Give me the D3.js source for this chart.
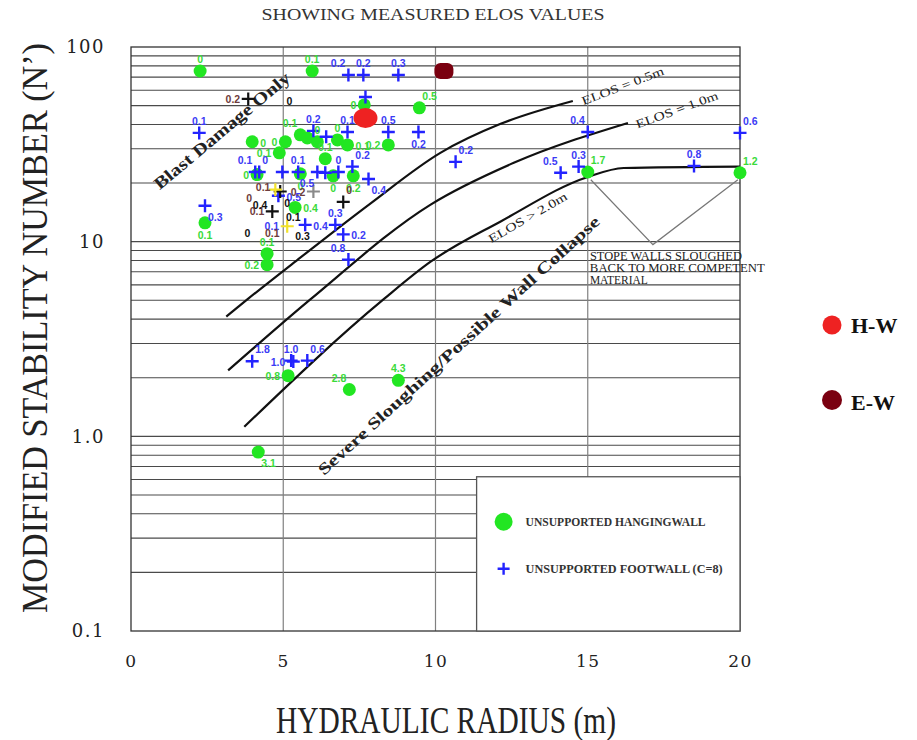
<!DOCTYPE html>
<html><head><meta charset="utf-8">
<script src="https://cdn.jsdelivr.net/npm/d3@7/dist/d3.min.js"></script>
<style>body{margin:0;background:#fff}svg{display:block}</style>
</head><body>
<svg id="chart" width="917" height="740"></svg>
<script>
// ---------------- DATA ----------------
const xTickValues = [0, 5, 10, 15, 20];
const xTickLabels = ["0", "5", "10", "15", "20"];
const yTickValues = [0.1, 1, 10, 100];
const yTickLabels = ["0.1", "1.0", "10", "100"];

// Unsupported hangingwall: [hydraulic radius, N', measured ELOS]
const hangingwall = [
  [2.27,75.3,"0"],[5.95,75.3,"0.1"],[7.66,50.4,"0"],[9.47,48.7,"0.5"],
  [3.98,32.6,"0"],[5.07,32.6,"0"],[5.56,35.4,"0.1"],[5.79,34.1,""],
  [6.12,32.6,"0"],[6.78,33.3,"0"],[7.11,31.4,"0.1"],[8.45,31.4,"0.2"],
  [4.87,28.6,"0.1"],[6.38,26.7,"0.1"],[5.56,22.3,"0"],[6.64,21.8,"0"],
  [7.30,21.8,"0.2"],[4.14,22.1,"0"],[5.39,15.0,"0.4"],[2.43,12.5,"0.1"],
  [4.47,8.68,"0.1"],[4.47,7.62,"0.2"],[5.16,2.05,"0.8"],[7.17,1.74,"2.8"],
  [8.78,1.94,"4.3"],[4.18,0.83,"3.1"],[15.0,22.8,"1.7"],[20.0,22.6,"1.2"]
];
const hwLabelSide = ["t","t","l","tr","r","l","tl","","t","t","r","l","l","t","b","b","b","l","r","b","t","l","l","tl","t","br","tr","tr"];

// Unsupported footwall (C=8): [hydraulic radius, N', measured ELOS]
const footwall = [
  [7.14,71.8,"0.2"],[7.63,71.8,"0.2"],[8.78,71.8,"0.3"],[7.70,55.4,""],
  [2.24,36.2,"0.1"],[5.99,37.1,"0.2"],[6.41,34.6,""],[7.11,36.6,"0.1"],
  [8.45,36.6,"0.5"],[9.44,36.6,"0.2"],[4.08,22.8,"0.1"],[4.21,22.8,"0"],
  [4.97,22.8,""],[5.49,22.8,"0.1"],[6.12,22.8,"0.5"],[6.38,22.6,""],
  [6.81,22.8,"0"],[7.27,24.3,"0.2"],[7.80,21.0,"0.4"],[4.84,17.2,"0.5"],
  [2.43,15.3,"0.3"],[5.72,12.2,"0.4"],[6.71,12.2,"0.3"],[6.97,10.9,"0.2"],
  [7.14,8.09,"0.8"],[3.98,2.43,"1.8"],[5.26,2.45,"1.0"],[5.33,2.42,"1.0"],
  [5.79,2.45,"0.6"],[10.66,25.7,"0.2"],[14.11,22.6,"0.5"],[14.70,24.3,"0.3"],
  [15.0,36.6,"0.4"],[18.49,24.5,"0.8"],[20.0,36.2,"0.6"]
];
const fwLabelSide = ["tl","t","t","","t","t","","t","t","b","tl","tr","","t","bl","","t","tr","br","r","br","r","t","r","tl","tr","t","l","tr","tr","tl","t","tl","t","tr"];

// Other case-history marks: [HR, N', ELOS, mark kind, label kind]
const otherMarks = [
  [3.85,54.1,"0.2","black","brown"],[6.97,16.0,"0","black","brown"],
  [4.90,18.1,"","black",""],[4.74,18.5,"","yellow",""],
  [5.99,18.1,"0.2","grey","brown"],[4.64,14.3,"0.1","black","brown"],
  [5.13,12.0,"0.1","yellow","blue"]
];
const otherLabelSide = ["l","tr","","","l","l","l"];

// Loose ELOS values: [HR, N', text, kind]
const looseLabels = [
  [5.20,52.8,"0","black"],[4.24,15.5,"0.4","black"],[3.88,16.8,"0","brown"],
  [5.13,15.8,"0","black"],[5.33,13.4,"0.1","black"],[3.82,11.1,"0","black"],
  [4.64,11.1,"0.1","brown"],[5.63,10.7,"0.3","black"],[4.34,19.2,"0.1","brown"]
];

// ELOS design curves: [HR, N']
const elos05 = [[3.13,4.12],[3.82,5.05],[5.56,8.28],[7.86,15.7],[10.16,28.6],[12.14,40.3],[14.51,52.8]];
const elos10 = [[3.19,2.18],[5.89,5.05],[9.84,15.5],[12.57,25.4],[16.32,40.7]];
const elos20 = [[3.72,1.12],[8.29,5.05],[9.84,7.89],[12.14,12.7],[15.0,21.5],[16.18,23.9],[20.0,24.3]];
const stopeV = [[15.1,20.8],[17.14,9.66],[19.93,20.8]];

// Highlighted cases
const caseHW = [[7.70,43.2]];
const caseEW = [[10.26,75.3]];

// ---------------- DRAW ----------------
const svg = d3.select("#chart");
const x = d3.scaleLinear().domain([0,20]).range([131,740]);
const y = d3.scaleLog().domain([0.1,100]).range([631,47]);
const serif = "'Liberation Serif', 'DejaVu Serif', serif";
const colors = {green:"#22e622", greenTxt:"#3ada3a", blue:"#2323ff", blueTxt:"#3b3bf5",
  black:"#111", brown:"#6e3c3c", yellow:"#f2e22a", grey:"#8a8a8a"};

// grid
const minor = [];
[0.1,1,10].forEach(d => { for (let k=1;k<10;k++) minor.push(d*k); });
svg.append("g").selectAll("line").data(minor.filter(v=>v>0.1)).join("line")
  .attr("x1", x(0)).attr("x2", x(20)).attr("y1", d=>y(d)).attr("y2", d=>y(d))
  .attr("stroke","#4a4a4a").attr("stroke-width",1.1);
svg.append("g").selectAll("line").data([5,10,15]).join("line")
  .attr("x1", d=>x(d)).attr("x2", d=>x(d)).attr("y1", y(100)).attr("y2", y(0.1))
  .attr("stroke","#808080").attr("stroke-width",1.2);
svg.append("rect").attr("x",x(0)).attr("y",y(100)).attr("width",x(20)-x(0)).attr("height",y(0.1)-y(100))
  .attr("fill","none").attr("stroke","#333").attr("stroke-width",1.3);

// curves
const line = d3.line().x(d=>x(d[0])).y(d=>y(d[1])).curve(d3.curveMonotoneX);
[elos05, elos10, elos20].forEach(c => svg.append("path").attr("d", line(c))
  .attr("fill","none").attr("stroke","#111").attr("stroke-width",2.2));
svg.append("path").attr("d", d3.line().x(d=>x(d[0])).y(d=>y(d[1]))(stopeV))
  .attr("fill","none").attr("stroke","#777").attr("stroke-width",1.2);

// annotations
function rotText(t, hx, ny, ang, size, len, weight) {
  svg.append("text").attr("transform", `translate(${x(hx)},${y(ny)}) rotate(${ang})`)
    .attr("text-anchor","middle").attr("dominant-baseline","central")
    .attr("font-family", serif).attr("font-size", size).attr("font-weight", weight)
    .attr("fill","#222").attr("textLength", len).attr("lengthAdjust","spacingAndGlyphs").text(t);
}
rotText("Blast  Damage  Only", 2.99, 37.1, -40, 17, 172, "bold");
rotText("Severe  Sloughing/Possible  Wall  Collapse", 10.76, 2.93, -42.4, 16, 375, "bold");
rotText("ELOS  =  0.5m", 16.15, 63.1, -21, 12, 87, "normal");
rotText("ELOS  =  1.0m", 17.93, 47.5, -20, 12, 87, "normal");
rotText("ELOS  >  2.0m", 13.03, 13.3, -30, 12, 89, "normal");
[["STOPE  WALLS  SLOUGHED",152],["BACK  TO  MORE  COMPETENT",175],["MATERIAL",58]].forEach((r,i)=>{
  svg.append("text").attr("x", x(15.07)).attr("y", y(8.09)+i*12)
    .attr("font-family",serif).attr("font-size",12.5).attr("fill","#222")
    .attr("textLength", r[1]).attr("lengthAdjust","spacingAndGlyphs").text(r[0]);
});

// label placement
const off = {t:[0,-8,"middle"], b:[0,16,"middle"], l:[-8,4,"end"], r:[8,5,"start"],
  tl:[-3,-8,"end"], tr:[3,-8,"start"], bl:[-3,15,"end"], br:[3,15,"start"]};
function label(g, px, py, txt, side, fill) {
  if (!txt || !side) return;
  const o = off[side];
  g.append("text").attr("x", px+o[0]).attr("y", py+o[1]).attr("text-anchor", o[2])
    .attr("font-family","'Liberation Sans', Arial, sans-serif").attr("font-weight","bold")
    .attr("font-size",10.5).attr("fill",fill).text(txt);
}
const plus = "M-6.5,0H6.5M0,-6.5V6.5";

// hangingwall
const gHW = svg.append("g");
gHW.selectAll("circle").data(hangingwall).join("circle")
  .attr("cx", d=>x(d[0])).attr("cy", d=>y(d[1])).attr("r", 6.5).attr("fill", colors.green);
// footwall
const gFW = svg.append("g");
gFW.selectAll("path").data(footwall).join("path")
  .attr("transform", d=>`translate(${x(d[0])},${y(d[1])})`).attr("d", plus)
  .attr("stroke", colors.blue).attr("stroke-width", 2.4).attr("fill","none");
// other marks
const gO = svg.append("g");
gO.selectAll("path").data(otherMarks).join("path")
  .attr("transform", d=>`translate(${x(d[0])},${y(d[1])})`).attr("d", plus)
  .attr("stroke", d=>colors[d[3]]).attr("stroke-width", 2.2).attr("fill","none");

const gL = svg.append("g");
hangingwall.forEach((d,i)=>label(gL, x(d[0]), y(d[1]), d[2], hwLabelSide[i], colors.greenTxt));
footwall.forEach((d,i)=>label(gL, x(d[0]), y(d[1]), d[2], fwLabelSide[i], colors.blueTxt));
otherMarks.forEach((d,i)=>label(gL, x(d[0]), y(d[1]), d[2], otherLabelSide[i],
  d[4]==="blue"?colors.blueTxt:colors[d[4]]));
looseLabels.forEach(d=>{
  gL.append("text").attr("x", x(d[0])).attr("y", y(d[1])+4).attr("text-anchor","middle")
    .attr("font-family","'Liberation Sans', Arial, sans-serif").attr("font-weight","bold")
    .attr("font-size",10.5).attr("fill",colors[d[3]]).text(d[2]);
});

// highlighted cases
svg.selectAll(".hw").data(caseHW).join("ellipse").attr("class","hw")
  .attr("cx", d=>x(d[0])).attr("cy", d=>y(d[1])).attr("rx",12).attr("ry",10).attr("fill","#ee2222");
svg.selectAll(".ew").data(caseEW).join("rect").attr("class","ew")
  .attr("x", d=>x(d[0])-9).attr("y", d=>y(d[1])-8).attr("width",19).attr("height",16).attr("rx",6)
  .attr("fill","#7a0010");

// legend box
const lx = x(11.35), ly = y(0.62);
svg.append("rect").attr("x", lx).attr("y", ly).attr("width", x(20)-lx).attr("height", y(0.1)-ly)
  .attr("fill","#fff").attr("stroke","#555").attr("stroke-width",1.3);
svg.append("circle").attr("cx", lx+27).attr("cy", ly+45).attr("r", 9).attr("fill", colors.green);
svg.append("path").attr("transform",`translate(${lx+27},${ly+92})`).attr("d","M-6,0H6M0,-6V6")
  .attr("stroke", colors.blue).attr("stroke-width",2.4);
[["UNSUPPORTED  HANGINGWALL",45,180],["UNSUPPORTED  FOOTWALL  (C=8)",92,197]].forEach(r=>{
  svg.append("text").attr("x", lx+49).attr("y", ly+r[1]+4).attr("font-family",serif)
    .attr("font-size",11.5).attr("font-weight","bold").attr("fill","#333")
    .attr("textLength", r[2]).attr("lengthAdjust","spacingAndGlyphs").text(r[0]);
});

// axes
const yAxis = d3.axisLeft(y).tickValues(yTickValues).tickFormat((d,i)=>yTickLabels[i]).tickSize(0).tickPadding(26);
const gy = svg.append("g").attr("transform",`translate(${x(0)},0)`).call(yAxis);
gy.select(".domain").remove();
gy.selectAll("text").attr("font-family","'DejaVu Serif', serif").attr("font-size",18).attr("fill","#222").attr("letter-spacing",1.5);
const xAxis = d3.axisBottom(x).tickValues(xTickValues).tickFormat((d,i)=>xTickLabels[i]).tickSize(0).tickPadding(24);
const gx = svg.append("g").attr("transform",`translate(0,${y(0.1)})`).call(xAxis);
gx.select(".domain").remove();
gx.selectAll("text").attr("font-family","'DejaVu Serif', serif").attr("font-size",17).attr("fill","#222").attr("letter-spacing",1.5);

// titles
svg.append("text").attr("x", 433).attr("y", 20).attr("text-anchor","middle").attr("font-family",serif)
  .attr("font-size",16).attr("fill","#333").attr("textLength",343).attr("lengthAdjust","spacingAndGlyphs")
  .text("SHOWING  MEASURED  ELOS  VALUES");
svg.append("text").attr("x", 446).attr("y", 733).attr("text-anchor","middle").attr("font-family",serif)
  .attr("font-size",38).attr("fill","#222").attr("textLength",340).attr("lengthAdjust","spacingAndGlyphs")
  .text("HYDRAULIC  RADIUS  (m)");
svg.append("text").attr("transform","translate(47,328) rotate(-90)").attr("text-anchor","middle")
  .attr("font-family",serif).attr("font-size",36).attr("fill","#222")
  .attr("textLength",570).attr("lengthAdjust","spacingAndGlyphs").text("MODIFIED  STABILITY  NUMBER  (N’)");

// side legend
const side = svg.append("g");
side.append("circle").attr("cx",832).attr("cy",325).attr("r",9.5).attr("fill","#ee2222");
side.append("text").attr("x",851).attr("y",333).attr("font-family",serif).attr("font-weight","bold")
  .attr("font-size",22).attr("fill","#111").text("H-W");
side.append("circle").attr("cx",832).attr("cy",400).attr("r",10).attr("fill","#7a0010");
side.append("text").attr("x",851).attr("y",410).attr("font-family",serif).attr("font-weight","bold")
  .attr("font-size",22).attr("fill","#111").text("E-W");
</script>
</body></html>
